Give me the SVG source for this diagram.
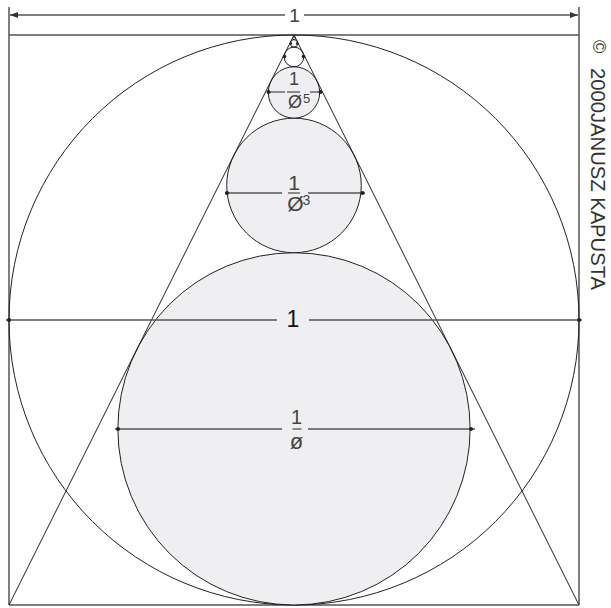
<svg xmlns="http://www.w3.org/2000/svg" width="611" height="608" viewBox="0 0 611 608">
<style>
.frame{fill:none;stroke:#555;stroke-width:1.5}
.geo{fill:none;stroke:#222;stroke-width:1}
.disk{fill:#efeff1;stroke:#222;stroke-width:1}
.dim{fill:none;stroke:#555;stroke-width:1.3}
.dot{fill:#222}
.lbl{font-family:"Liberation Sans",Arial,sans-serif;fill:#444;text-anchor:middle}
.sup{font-family:"Liberation Sans",Arial,sans-serif;fill:#444}
.copy{font-family:"Liberation Sans",Arial,sans-serif;fill:#333}
</style>
<defs>
<marker id="arr" viewBox="0 0 8 6" refX="8" refY="3" markerWidth="8" markerHeight="6" markerUnits="userSpaceOnUse" orient="auto-start-reverse">
<path d="M0,0 L8,3 L0,6 Z" fill="#333"/>
</marker>
</defs>
<rect width="611" height="608" fill="#fff"/>

<g id="frame">
<line class="frame" x1="9" y1="7" x2="9" y2="605"/>
<line class="frame" x1="579" y1="7" x2="579" y2="605"/>
<line class="frame" x1="9" y1="35" x2="579" y2="35"/>
<line class="frame" x1="9" y1="605" x2="579" y2="605"/>
</g>

<g id="outer-circle">
<circle class="geo" cx="294" cy="320" r="285"/>
</g>

<g id="circle-phi1"><circle class="disk" cx="294" cy="428.86" r="176.14"/></g>
<g id="circle-phi3"><circle class="disk" cx="294" cy="185.44" r="67.28"/></g>
<g id="circle-phi5"><circle class="disk" cx="294" cy="92.46" r="25.7"/></g>
<g id="circle-phi7"><circle class="geo" cx="294" cy="56.94" r="9.82"/></g>
<g id="circle-phi9"><circle class="geo" cx="294" cy="43.38" r="3.75"/></g>
<g id="circle-phi11"><circle class="geo" cx="294" cy="38.2" r="1.43"/></g>

<g id="triangle">
<polyline class="geo" points="9,605 294,35 579,605"/>
</g>

<g id="connectors">
<line class="dim" x1="285" y1="15" x2="10" y2="15" marker-end="url(#arr)"/>
<line class="dim" x1="304" y1="15" x2="578" y2="15" marker-end="url(#arr)"/>
<line class="dim" x1="6" y1="320" x2="277" y2="320"/>
<line class="dim" x1="309" y1="320" x2="582" y2="320"/>
<circle class="dot" cx="9" cy="320" r="2"/>
<circle class="dot" cx="579" cy="320" r="2"/>
<line class="dim" x1="115" y1="429" x2="282" y2="429"/>
<line class="dim" x1="308" y1="429" x2="475" y2="429"/>
<line class="dim" x1="292.5" y1="429" x2="301.5" y2="429"/>
<circle class="dot" cx="118" cy="429" r="2"/>
<circle class="dot" cx="471" cy="429" r="2"/>
<line class="dim" x1="225" y1="193" x2="282" y2="193"/>
<line class="dim" x1="308" y1="193" x2="365" y2="193"/>
<line class="dim" x1="288" y1="193" x2="300" y2="193"/>
<circle class="dot" cx="227" cy="193" r="2"/>
<circle class="dot" cx="362.5" cy="193" r="2"/>
<line class="dim" x1="267" y1="92" x2="285" y2="92"/>
<line class="dim" x1="310" y1="92" x2="322" y2="92"/>
<line class="dim" x1="287" y1="92" x2="300" y2="92"/>
<circle class="dot" cx="268.5" cy="92" r="2"/>
<circle class="dot" cx="320.5" cy="92" r="2"/>
<circle class="dot" cx="284.5" cy="56.5" r="1.8"/>
<circle class="dot" cx="303.5" cy="56.5" r="1.8"/>
<circle class="dot" cx="290.8" cy="43.5" r="1.3"/>
<circle class="dot" cx="297.2" cy="43.5" r="1.3"/>
</g>

<g id="labels">
<text class="lbl" x="294.5" y="22" font-size="19">1</text>
<text class="lbl" x="293" y="327" font-size="23" style="fill:#111">1</text>

<text class="lbl" x="296.5" y="424" font-size="20">1</text>
<text class="lbl" x="296.5" y="448.5" font-size="22">ø</text>

<text class="lbl" x="294" y="190" font-size="21">1</text>
<text class="lbl" x="295.5" y="211" font-size="21">Ø</text>
<text class="sup" x="302.5" y="205" font-size="14">3</text>

<text class="lbl" x="294" y="85" font-size="18">1</text>
<text class="lbl" x="295" y="108" font-size="18">Ø</text>
<text class="sup" x="303" y="103" font-size="13">5</text>
</g>

<g id="copyright">
<text class="copy" transform="translate(593,40) rotate(90)" font-size="18">©</text>
<text class="copy" transform="translate(591,68) rotate(90)" font-size="19.5" textLength="222" lengthAdjust="spacingAndGlyphs">2000JANUSZ KAPUSTA</text>
</g>
</svg>
